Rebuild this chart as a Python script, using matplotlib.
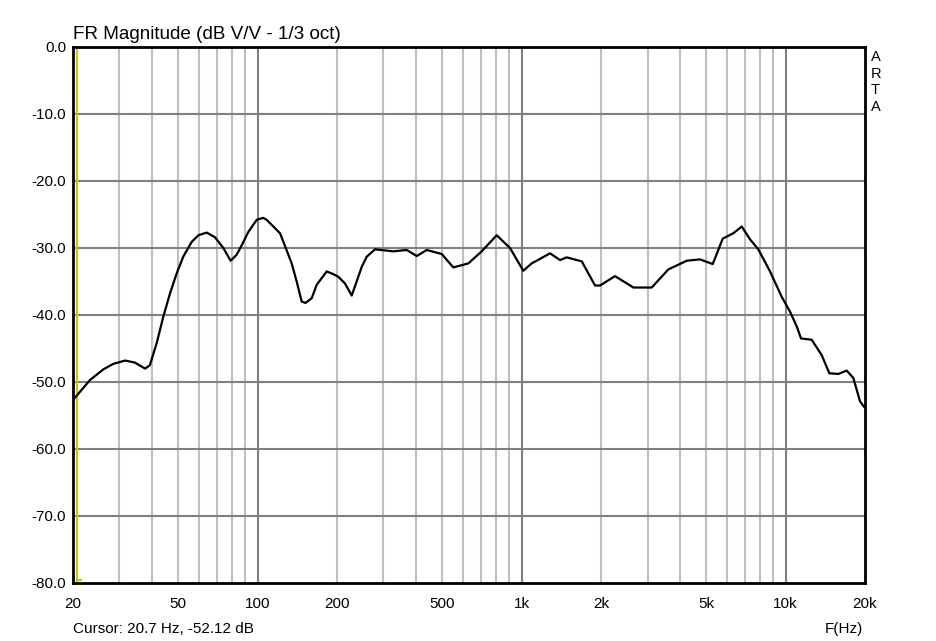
import numpy as np
import matplotlib.pyplot as plt
from matplotlib.ticker import FixedLocator, NullFormatter

# frequency response (Hz, dB)
freq = [20, 23.2, 26.1, 28.4, 31.5, 34.3, 37.5, 39.1, 41.5, 44.0, 46.6, 49.4,
        52.3, 56.3, 59.7, 64.2, 69.0, 74.2, 79.1, 83.4, 87.1, 92.3, 99.3, 105,
        108.3, 121.7, 134.7, 140.7, 147, 152, 160.4, 167.5, 182.8, 193.6,
        202.3, 214.5, 227.4, 248.2, 259.2, 278.6, 326.8, 367.4, 400.9, 437.5,
        498.6, 551.4, 628.8, 706.5, 805.3, 904.4, 1015, 1093, 1282, 1399,
        1483, 1691, 1898, 1983, 2260, 2652, 3112, 3597, 4224, 4742, 5298,
        5782, 6341, 6824, 7333, 7884, 8734, 9672, 10396, 11022, 11444, 12562,
        13710, 14646, 15850, 17050, 18058, 19146, 19826]
mag = [-52.7, -49.7, -48.1, -47.3, -46.8, -47.1, -48.0, -47.5, -44.2, -40.2,
       -36.8, -33.8, -31.3, -29.1, -28.1, -27.7, -28.4, -30.0, -31.9, -31.0,
       -29.6, -27.6, -25.8, -25.5, -25.8, -27.8, -32.3, -35.0, -38.0, -38.2,
       -37.5, -35.5, -33.5, -33.9, -34.3, -35.3, -37.1, -32.8, -31.3, -30.2,
       -30.5, -30.3, -31.2, -30.3, -30.9, -32.9, -32.3, -30.5, -28.1, -30.0,
       -33.4, -32.3, -30.8, -31.8, -31.4, -32.0, -35.6, -35.6, -34.2, -35.9,
       -35.9, -33.2, -31.9, -31.7, -32.4, -28.6, -27.8, -26.8, -28.7, -30.2,
       -33.5, -37.3, -39.5, -41.7, -43.5, -43.7, -46.0, -48.7, -48.8, -48.3,
       -49.4, -52.9, -53.7]

xticks = [20, 50, 100, 200, 500, 1000, 2000, 5000, 10000, 20000]
xlabels = ['20', '50', '100', '200', '500', '1k', '2k', '5k', '10k', '20k']
yticks = [0, -10, -20, -30, -40, -50, -60, -70, -80]

cursor_f = 20.7
cursor_text = 'Cursor: 20.7 Hz, -52.12 dB'


def main():
    plt.rcParams['font.family'] = ['Liberation Sans', 'DejaVu Sans']
    fig = plt.figure(figsize=(9.37, 6.41), dpi=100)
    ax = fig.add_axes([0.0779, 0.0905, 0.8453, 0.8362])
    ax.set_xscale('log')
    ax.set_xlim(20, 20000)
    ax.set_ylim(-80, 0)

    # grid: decades darker, the rest light
    minor = [m * 10 ** d for d in range(1, 5) for m in range(2, 10)
             if 20 < m * 10 ** d < 20000]
    for f in minor:
        ax.axvline(f, color='#c0c0c0', lw=1.5, zorder=1)
    for f in [100, 1000, 10000]:
        ax.axvline(f, color='#808080', lw=1.5, zorder=1)
    for y in yticks[1:-1]:
        ax.axhline(y, color='#808080', lw=1.5, zorder=1)

    ax.plot(freq, mag, color='black', lw=1.6, zorder=3,
            solid_joinstyle='round')

    # cursor
    ax.axvline(cursor_f, color='#c8c800', lw=1.5, zorder=2)
    ax.plot([cursor_f, cursor_f * 1.04], [-79.6, -79.6], color='#c8c800',
            lw=1.5, zorder=2)

    ax.xaxis.set_major_locator(FixedLocator(xticks))
    ax.xaxis.set_minor_formatter(NullFormatter())
    ax.set_xticks(xticks, xlabels)
    ax.set_yticks(yticks, ['%.1f' % v for v in yticks])
    ax.tick_params(which='both', length=0, labelsize=11, pad=5)
    ax.tick_params(axis='x', pad=10)
    for s in ax.spines.values():
        s.set_linewidth(2)

    fig.text(0.0779, 0.939, 'FR Magnitude (dB V/V - 1/3 oct)', fontsize=13.6)
    fig.text(0.0779, 0.012, cursor_text, fontsize=11)
    fig.text(0.880, 0.012, 'F(Hz)', fontsize=11)
    for i, ch in enumerate('ARTA'):
        fig.text(0.929, 0.905 - i * 0.026, ch, fontsize=10.5)

    fig.savefig('out.png', dpi=100, facecolor='white')


if __name__ == '__main__':
    main()
